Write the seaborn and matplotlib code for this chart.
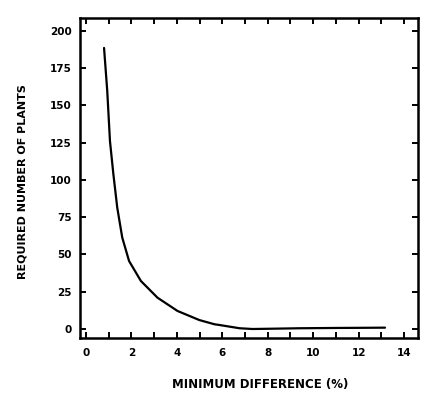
import matplotlib
matplotlib.use("Agg")
import matplotlib.pyplot as plt
import seaborn as sns
import pandas as pd

# Valeurs
min_difference = [0.80, 0.94, 1.06, 1.21, 1.38, 1.60, 1.90, 2.42, 3.15, 4.03,
                  4.99, 5.65, 5.87, 6.76, 7.33, 8.2, 9.4, 11.0, 12.2, 13.16]
required_plants = [188.4, 159.7, 126.0, 103.8, 81.4, 61.3, 45.6, 32.2, 21.0, 12.1,
                   6.0, 3.2, 2.7, 0.5, 0.0, 0.2, 0.5, 0.7, 0.8, 0.9]

df = pd.DataFrame({"diff": min_difference, "plants": required_plants})

sns.set_style("ticks")
plt.rcParams["font.family"] = ["DejaVu Sans"]
plt.rcParams["text.color"] = "black"
plt.rcParams["axes.labelcolor"] = "black"

fig = plt.figure(figsize=(4.22, 3.99), dpi=100)
ax = fig.add_axes([0.19, 0.153, 0.80, 0.802])

sns.lineplot(data=df, x="diff", y="plants", ax=ax, color="black", linewidth=1.6)

ax.set_xlim(-0.25, 14.6)
ax.set_ylim(-6, 208.5)
ax.set_xticks(range(0, 15, 2))
ax.set_xticks(range(1, 15, 2), minor=True)
ax.set_yticks(range(0, 201, 25))

for side in ["top", "right", "left", "bottom"]:
    ax.spines[side].set_visible(True)
    ax.spines[side].set_linewidth(1.8)
    ax.spines[side].set_color("black")

ax.tick_params(which="both", direction="in", top=True, right=True, width=1.4,
               length=4.5, labelsize=7.5, colors="black")
ax.tick_params(axis="x", which="both", pad=7)
ax.tick_params(axis="y", which="both", pad=6)
for lab in ax.get_xticklabels() + ax.get_yticklabels():
    lab.set_fontweight("bold")

ax.set_xlabel("MINIMUM DIFFERENCE (%)", fontsize=8.5, fontweight="bold", va="center", color="black")
ax.set_ylabel("REQUIRED NUMBER OF PLANTS", fontsize=8, fontweight="bold", va="center", color="black")
ax.xaxis.set_label_coords(0.533, -0.144)
ax.yaxis.set_label_coords(-0.172, 0.49)

plt.savefig("out.png", dpi=100)
